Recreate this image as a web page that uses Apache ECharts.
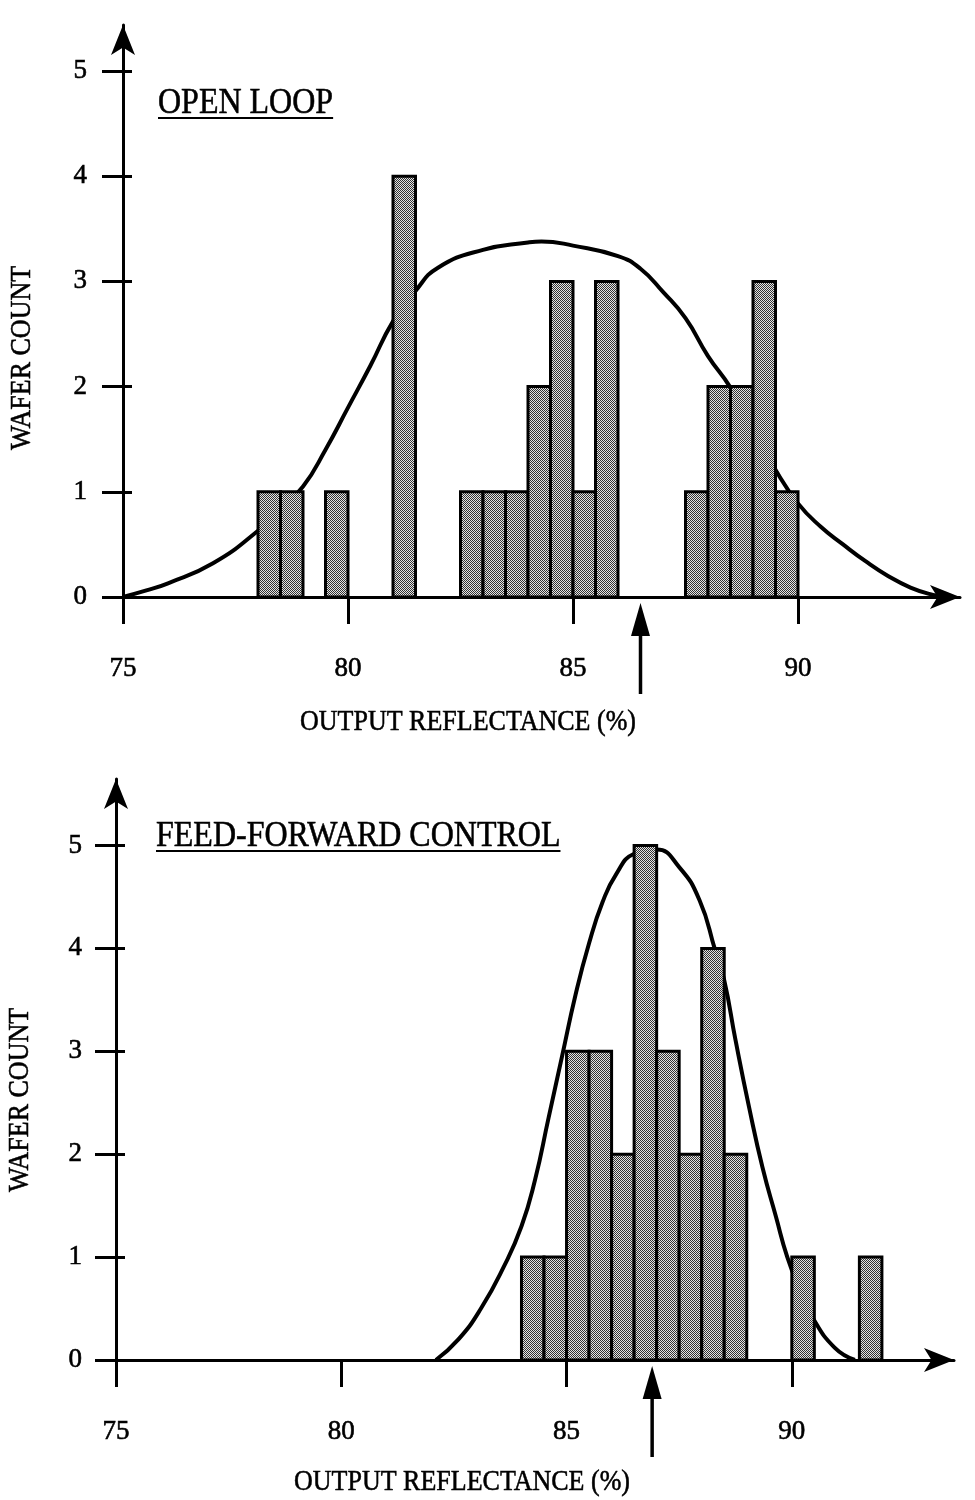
<!DOCTYPE html>
<html>
<head>
<meta charset="utf-8">
<script src="https://cdn.jsdelivr.net/npm/echarts@6/dist/echarts.min.js"></script>
<style>
  html, body { margin: 0; padding: 0; background: #ffffff; }
  #chart { width: 975px; height: 1500px; }
</style>
</head>
<body>
<div id="chart"></div>
<script>
// ---- Histogram data: lower bin edge (%) and wafer count per 0.5 % bin ----
const binWidth = 0.5;

const openLoopBins   = [78.0, 78.5, 79.5, 81.0, 82.5, 83.0, 83.5, 84.0, 84.5, 85.0, 85.5, 87.5, 88.0, 88.5, 89.0, 89.5];
const openLoopCounts = [1,    1,    1,    4,    1,    1,    1,    2,    3,    1,    3,    1,    2,    2,    3,    1];

const feedForwardBins   = [84.0, 84.5, 85.0, 85.5, 86.0, 86.5, 87.0, 87.5, 88.0, 88.5, 90.0, 91.5];
const feedForwardCounts = [1,    1,    3,    3,    2,    5,    3,    2,    4,    2,    1,    1];

// ---- Fitted distribution curves (reflectance %, wafer count) ----
const openLoopFitX = [75.0, 75.5, 76.0, 77.0, 78.0, 78.5, 79.0, 79.5, 80.0, 80.5, 81.0, 81.5, 82.0, 83.0, 84.0, 84.3, 85.0, 86.0, 86.5, 87.0, 87.5, 88.0, 88.5, 89.0, 89.5, 90.0, 90.5, 91.0, 91.5, 92.0, 92.5, 93.0, 93.3];
const openLoopFitY = [0.00, 0.06, 0.13, 0.32, 0.63, 0.84, 1.05, 1.40, 1.80, 2.20, 2.62, 2.91, 3.13, 3.30, 3.37, 3.38, 3.34, 3.24, 3.12, 2.90, 2.65, 2.29, 1.99, 1.60, 1.21, 0.89, 0.67, 0.50, 0.34, 0.20, 0.09, 0.02, 0.00];

const feedForwardFitX = [82.1, 82.6, 83.1, 83.6, 84.0, 84.3, 84.6, 84.9, 85.2, 85.5, 85.8, 86.1, 86.5, 87.0, 87.5, 87.95, 88.3, 88.5, 88.75, 89.05, 89.35, 89.65, 89.9, 90.2, 90.45, 90.95, 91.4];
const feedForwardFitY = [0.00, 0.20, 0.50, 0.90, 1.30, 1.75, 2.35, 2.95, 3.55, 4.05, 4.45, 4.72, 4.92, 4.96, 4.79, 4.47,  3.98, 3.69, 3.11,  2.46,  1.87,  1.39,  1.00, 0.66, 0.42,  0.12,  0.00];

// ---- Target reflectance markers ----
const openLoopTarget = 86.5;
const feedForwardTarget = 86.9;

// ---- Axis ticks and text ----
const xTickValues = [75, 80, 85, 90];
const yTickValues = [0, 1, 2, 3, 4, 5];
const panelTitles = ['OPEN LOOP', 'FEED-FORWARD CONTROL'];
const xAxisTitle = 'OUTPUT REFLECTANCE (%)';
const yAxisTitle = 'WAFER COUNT';

const SERIF = '"Liberation Serif", "Times New Roman", serif';

// Halftone-like fill used for the histogram bars
function makeHalftone() {
  const c = document.createElement('canvas');
  c.width = 4; c.height = 4;
  const g = c.getContext('2d');
  g.fillStyle = '#e4e4e4';
  g.fillRect(0, 0, 4, 4);
  g.fillStyle = '#333333';
  for (let y = 0; y < 4; y++) {
    for (let x = 0; x < 4; x++) {
      if ((x + y) % 2 === 0) g.fillRect(x, y, 1, 1);
    }
  }
  return { image: c, repeat: 'repeat' };
}
const halftone = makeHalftone();

function textWidth(str, size) {
  const c = document.createElement('canvas').getContext('2d');
  c.font = size + 'px ' + SERIF;
  return c.measureText(str).width;
}

const labelText = {
  fontFamily: SERIF, fontSize: 27, color: '#000',
  textBorderColor: '#000', textBorderWidth: 0.6
};

// Panel layout: grid box and axis extents
const panels = [
  { grid: { left: 123, top: 25,  width: 837, height: 572 }, xMax: 93.6, yMax: 5.437,
    bins: openLoopBins, counts: openLoopCounts, fitX: openLoopFitX, fitY: openLoopFitY,
    target: openLoopTarget, labelMarginY: 36,
    title: { x: 158, y: 104, line: 118 },
    xName: { x: 468, y: 722 }, yName: { x: 22, y: 358 } },
  { grid: { left: 116, top: 779, width: 838, height: 581 }, xMax: 93.6, yMax: 5.646,
    bins: feedForwardBins, counts: feedForwardCounts, fitX: feedForwardFitX, fitY: feedForwardFitY,
    target: feedForwardTarget, labelMarginY: 34,
    title: { x: 156, y: 837, line: 851 },
    xName: { x: 462, y: 1482 }, yName: { x: 20, y: 1100 } }
];

const grids = [], xAxes = [], yAxes = [], series = [], graphics = [];

panels.forEach((p, i) => {
  grids.push(Object.assign({ outerBoundsMode: 'none', containLabel: false }, p.grid));

  xAxes.push({
    type: 'value', gridIndex: i, position: 'bottom', min: 75, max: p.xMax, interval: 5,
    axisLine: { show: true, onZero: false, symbol: ['none', 'arrow'], symbolSize: [18, 30],
                lineStyle: { color: '#000', width: 3 } },
    axisTick: { show: true, inside: false, length: 27, customValues: xTickValues,
                lineStyle: { color: '#000', width: 3 } },
    axisLabel: Object.assign({ show: true, margin: 58, customValues: xTickValues }, labelText),
    splitLine: { show: false }
  });

  // Main vertical axis: line, arrow, outward ticks and labels
  yAxes.push({
    type: 'value', gridIndex: i, position: 'left', min: 0, max: p.yMax, interval: 1,
    axisLine: { show: true, onZero: false, symbol: ['none', 'arrow'], symbolSize: [18, 30],
                lineStyle: { color: '#000', width: 3 } },
    axisTick: { show: true, inside: false, length: 21, customValues: yTickValues,
                lineStyle: { color: '#000', width: 3 } },
    axisLabel: Object.assign({ show: true, margin: p.labelMarginY, customValues: yTickValues }, labelText),
    splitLine: { show: false }
  });
  // Companion axis drawing the short inner half of each crossing tick
  yAxes.push({
    type: 'value', gridIndex: i, position: 'left', offset: 0, min: 0, max: p.yMax, interval: 1,
    axisLine: { show: false, onZero: false },
    axisTick: { show: true, inside: true, length: 9, customValues: yTickValues,
                lineStyle: { color: '#000', width: 3 } },
    axisLabel: { show: false },
    splitLine: { show: false }
  });

  const yMainIndex = i * 2;

  series.push({
    type: 'line', xAxisIndex: i, yAxisIndex: yMainIndex, z: 2,
    data: p.fitX.map((x, k) => [x, p.fitY[k]]),
    smooth: 0.5, showSymbol: false, symbol: 'none',
    lineStyle: { color: '#000', width: 4 }, silent: true
  });

  series.push({
    type: 'custom', xAxisIndex: i, yAxisIndex: yMainIndex, z: 3,
    data: p.bins.map((b, k) => [b, p.counts[k]]),
    encode: { x: 0, y: 1 },
    renderItem: (params, api) => {
      const lo = api.value(0), n = api.value(1);
      const a = api.coord([lo, n]);
      const b = api.coord([lo + binWidth, 0]);
      return {
        type: 'rect',
        shape: { x: a[0], y: a[1], width: b[0] - a[0], height: b[1] - a[1] },
        style: { fill: halftone, stroke: '#000', lineWidth: 3 }
      };
    },
    silent: true
  });

  // Target marker: upward arrow beneath the reflectance axis
  series.push({
    type: 'custom', xAxisIndex: i, yAxisIndex: yMainIndex, z: 4, clip: false,
    data: [[p.target, 0]],
    encode: { x: 0, y: 1 },
    renderItem: (params, api) => {
      const pt = api.coord([api.value(0), 0]);
      const x = pt[0], y = pt[1];
      return {
        type: 'group',
        children: [
          { type: 'line', shape: { x1: x, y1: y + 97, x2: x, y2: y + 34 },
            style: { stroke: '#000', lineWidth: 3.5 } },
          { type: 'polygon', shape: { points: [[x, y + 6], [x - 9.5, y + 39], [x + 9.5, y + 39]] },
            style: { fill: '#000' } }
        ]
      };
    },
    silent: true
  });

  // Panel title with underline
  const tw = textWidth(panelTitles[i], 32);
  graphics.push({
    type: 'text', x: p.title.x, y: p.title.y, scaleY: 1.1,
    style: { text: panelTitles[i], font: '32px ' + SERIF, fill: '#000',
             stroke: '#000', lineWidth: 0.5,
             textAlign: 'left', textVerticalAlign: 'middle' }
  });
  graphics.push({
    type: 'line', shape: { x1: p.title.x, y1: p.title.line, x2: p.title.x + tw, y2: p.title.line },
    style: { stroke: '#000', lineWidth: 2 }
  });

  // Axis titles
  graphics.push({
    type: 'text', x: p.xName.x, y: p.xName.y, scaleY: 1.1,
    style: { text: xAxisTitle, font: '26px ' + SERIF, fill: '#000',
             stroke: '#000', lineWidth: 0.5,
             textAlign: 'center', textVerticalAlign: 'middle' }
  });
  graphics.push({
    type: 'text', x: p.yName.x, y: p.yName.y, rotation: Math.PI / 2, scaleY: 1.1,
    style: { text: yAxisTitle, font: '26px ' + SERIF, fill: '#000',
             stroke: '#000', lineWidth: 0.5,
             textAlign: 'center', textVerticalAlign: 'middle' }
  });
});

const chart = echarts.init(document.getElementById('chart'), null, { renderer: 'canvas' });
chart.setOption({
  animation: false,
  backgroundColor: '#ffffff',
  grid: grids,
  xAxis: xAxes,
  yAxis: yAxes,
  series: series,
  graphic: graphics
});
</script>
</body>
</html>
